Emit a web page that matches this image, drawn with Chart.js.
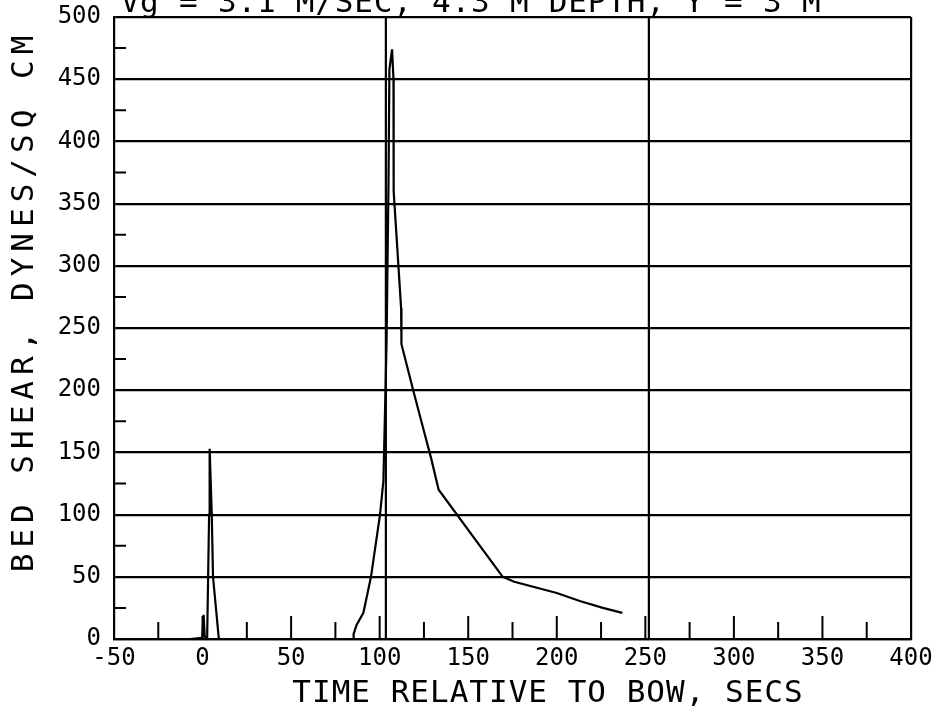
<!DOCTYPE html>
<html><head><meta charset="utf-8">
<script src="https://cdn.jsdelivr.net/npm/chart.js@4/dist/chart.umd.min.js"></script>
<style>html,body{margin:0;padding:0;background:#fff;overflow:hidden}#wrap{width:935px;height:709px}</style>
</head><body><div id="wrap"><canvas id="c" width="935" height="709"></canvas></div>
<script>
const chartTitle = 'Vg = 3.1 M/SEC, 4.3 M DEPTH, Y = 3 M';
const xAxisTitle = 'TIME RELATIVE TO BOW, SECS';
const yAxisTitle = 'BED SHEAR, DYNES/SQ CM';

// bed shear trace (time in s, shear in dynes/sq cm)
const timeSecs = [-7, -0.2, 0.6, 1.2, 2.6, 3.7, 4.0, 5.2, 5.9, 9.2, 85, 85.3, 86.9, 90.8, 95.1, 100.2, 102.1, 103.3, 103.9, 105, 105.5, 107, 107.8, 107.9, 112.1, 112.3, 119.3, 125.2, 129.1, 133.3, 169.5, 176, 200, 213, 226, 237];
const bedShear = [0, 1, 19.5, 2, 1, 100, 153, 100, 50, 0, 0, 4, 11, 21, 50, 100, 127, 200, 239, 368, 458, 474, 450, 360, 266, 237, 198, 166, 145, 120, 50, 46, 37, 30.5, 25, 21];

// vertical reference lines (bow / stern passage)
const markerTimes = [103.5, 252];

// axes
const xTickValues = [-50, 0, 50, 100, 150, 200, 250, 300, 350, 400];
const yTickValues = [0, 50, 100, 150, 200, 250, 300, 350, 400, 450, 500];
const xMinorTicks = [-25, 0, 25, 50, 75, 100, 125, 150, 175, 200, 225, 250, 275, 300, 325, 350, 375];
const yMinorTicks = [25, 75, 125, 175, 225, 275, 325, 375, 425, 475];

const FONT = '"DejaVu Sans Mono", monospace';

const datasets = [{
  data: timeSecs.map((t, i) => ({x: t, y: bedShear[i]})),
  borderColor: '#000', borderWidth: 2.2, pointRadius: 0, tension: 0, fill: false
}];
markerTimes.forEach(m => datasets.push({
  data: [{x: m, y: 0}, {x: m, y: 500}],
  borderColor: '#000', borderWidth: 2.2, pointRadius: 0, fill: false
}));

const decor = {
  id: 'decor',
  afterDraw(chart) {
    const ctx = chart.ctx, xs = chart.scales.x, ys = chart.scales.y, a = chart.chartArea;
    ctx.save();
    ctx.strokeStyle = '#000'; ctx.lineWidth = 2;
    ctx.beginPath();
    xMinorTicks.forEach(v => {
      const px = xs.getPixelForValue(v);
      const len = (v % 50 === 0) ? 23 : 17;
      ctx.moveTo(px, a.bottom); ctx.lineTo(px, a.bottom - len);
    });
    yMinorTicks.forEach(v => {
      const py = ys.getPixelForValue(v);
      ctx.moveTo(a.left, py); ctx.lineTo(a.left + 12, py);
    });
    ctx.stroke();

    ctx.fillStyle = '#000';
    ctx.textAlign = 'center'; ctx.textBaseline = 'alphabetic';
    ctx.font = '31px ' + FONT;
    ctx.letterSpacing = '0.8px';
    ctx.fillText(chartTitle, 471, 12);
    ctx.letterSpacing = '1px';
    ctx.fillText(xAxisTitle, 548, 702);
    ctx.save();
    ctx.translate(33, 301);
    ctx.rotate(-Math.PI / 2);
    ctx.letterSpacing = '6px';
    ctx.fillText(yAxisTitle, 0, 0);
    ctx.restore();
    ctx.restore();
  }
};

new Chart(document.getElementById('c'), {
  type: 'line',
  data: {datasets},
  options: {
    responsive: false, animation: false, devicePixelRatio: 1,
    layout: {padding: {left: 0, right: 24, top: 17, bottom: 0}},
    plugins: {legend: {display: false}, tooltip: {enabled: false}, title: {display: false}},
    scales: {
      x: {
        type: 'linear', min: -50, max: 400,
        afterBuildTicks: s => { s.ticks = xTickValues.map(v => ({value: v})); },
        afterFit: s => { s.height = 70; s.paddingLeft = 0; s.paddingRight = 0; },
        grid: {color: c => (c.tick && c.tick.value === 400) ? '#000' : 'rgba(0,0,0,0)', lineWidth: 2.2, drawTicks: false},
        border: {display: true, color: '#000', width: 2.2},
        ticks: {color: '#000', font: {family: FONT, size: 24}, padding: 5, maxRotation: 0, autoSkip: false}
      },
      y: {
        min: 0, max: 500,
        afterBuildTicks: s => { s.ticks = yTickValues.map(v => ({value: v})); },
        afterFit: s => { s.width = 114; s.paddingTop = 0; s.paddingBottom = 0; },
        grid: {color: '#000', lineWidth: 2.2, drawTicks: false},
        border: {display: true, color: '#000', width: 2.2},
        ticks: {color: '#000', font: {family: FONT, size: 24}, padding: 13, autoSkip: false}
      }
    }
  },
  plugins: [decor]
});
</script></body></html>
